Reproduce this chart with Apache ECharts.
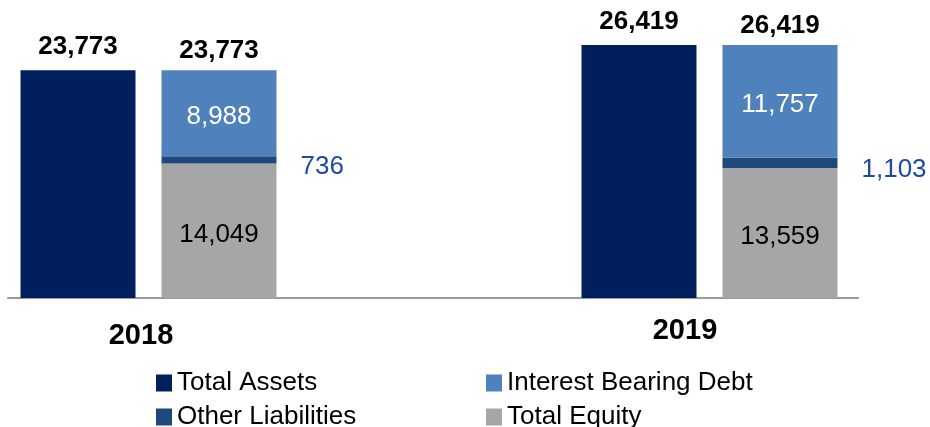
<!DOCTYPE html>
<html>
<head>
<meta charset="utf-8">
<script src="https://cdn.jsdelivr.net/npm/echarts@6/dist/echarts.min.js"></script>
<style>
  html, body { margin: 0; padding: 0; background: #fff; }
  #chart { width: 930px; height: 427px; }
</style>
</head>
<body>
<div id="chart"></div>
<script>
// data
const years = ['2018', '2019']
const totalAssets = [23773, 26419]
const totalEquity = [14049, 13559]
const otherLiabilities = [736, 1103]
const interestBearingDebt = [8988, 11757]
const stackTotals = [23773, 26419]
const stackTop = [0, 0] // zero-height cap, only carries the total label

const FONT = '"Liberation Sans", Arial, sans-serif'
const fmt = (v) => Number(v).toLocaleString('en-US')

const myChart = echarts.init(document.getElementById('chart'))

const barBase = {
  type: 'bar',
  barWidth: 115,
  barGap: '22.6%',
  clip: false,
  animation: false
}

const legendBase = {
  orient: 'vertical',
  top: 370,
  height: 80,
  padding: 0,
  itemGap: 8,
  itemWidth: 16,
  itemHeight: 17,
  icon: 'rect',
  selectedMode: false,
  textStyle: { fontSize: 26, color: '#000', fontFamily: FONT }
}

const option = {
  backgroundColor: '#fff',
  textStyle: { fontFamily: FONT },

  grid: [
    // bars grid: the two years sit on the grid edges (boundaryGap false)
    { left: 148.5, right: 220.5, top: 1, bottom: 129, containLabel: false },
    // baseline only
    { left: 8, width: 850, top: 1, bottom: 129, containLabel: false }
  ],

  xAxis: [
    {
      type: 'category',
      gridIndex: 0,
      data: years,
      boundaryGap: false,
      axisLine: { show: false },
      axisTick: { show: false },
      splitLine: { show: false },
      axisLabel: {
        margin: 18,
        formatter: (v) => (v === '2018' ? '{a|' + v + '}' : '{b|' + v + '}'),
        rich: {
          a: { fontSize: 29, fontWeight: 'bold', color: '#000', fontFamily: FONT, padding: [5, 15, 0, 0] },
          b: { fontSize: 29, fontWeight: 'bold', color: '#000', fontFamily: FONT, padding: [0, 49, 0, 0] }
        }
      }
    },
    {
      type: 'value',
      gridIndex: 1,
      position: 'bottom',
      axisLine: { show: true, onZero: false, lineStyle: { color: '#9a9a9a', width: 2 } },
      axisTick: { show: false },
      axisLabel: { show: false },
      splitLine: { show: false }
    }
  ],

  yAxis: [
    { type: 'value', gridIndex: 0, min: 0, max: 31000, show: false },
    { type: 'value', gridIndex: 1, show: false }
  ],

  legend: [
    { ...legendBase, data: ['Total Assets', 'Other Liabilities'], left: 156 },
    { ...legendBase, data: ['Interest Bearing Debt', 'Total Equity'], left: 486 }
  ],

  series: [
    {
      ...barBase,
      name: 'Total Assets',
      stack: 'assets',
      data: totalAssets,
      itemStyle: { color: '#001f5c' },
      label: {
        show: true,
        position: 'top',
        distance: 10,
        fontSize: 26,
        fontWeight: 'bold',
        color: '#000',
        fontFamily: FONT,
        formatter: (p) => fmt(p.value)
      }
    },
    {
      ...barBase,
      name: 'Total Equity',
      stack: 'liab',
      data: totalEquity,
      itemStyle: { color: '#a6a6a6' },
      label: {
        show: true,
        position: 'inside',
        offset: [0, 4],
        fontSize: 26,
        color: '#000',
        fontFamily: FONT,
        formatter: (p) => fmt(p.value)
      }
    },
    {
      ...barBase,
      name: 'Other Liabilities',
      stack: 'liab',
      data: otherLiabilities,
      itemStyle: { color: '#1f497d' },
      label: {
        show: true,
        position: 'right',
        distance: 24,
        offset: [0, 7],
        fontSize: 26,
        color: '#1f4aa0',
        fontFamily: FONT,
        formatter: (p) => fmt(p.value)
      }
    },
    {
      ...barBase,
      name: 'Interest Bearing Debt',
      stack: 'liab',
      data: interestBearingDebt,
      itemStyle: { color: '#4f81bd' },
      label: {
        show: true,
        position: 'inside',
        offset: [0, 4],
        fontSize: 26,
        color: '#fff',
        fontFamily: FONT,
        formatter: (p) => fmt(p.value)
      }
    },
    {
      ...barBase,
      name: 'Total',
      stack: 'liab',
      data: stackTop,
      itemStyle: { color: 'transparent' },
      label: {
        show: true,
        position: 'top',
        distance: 6,
        fontSize: 26,
        fontWeight: 'bold',
        color: '#000',
        fontFamily: FONT,
        formatter: (p) => fmt(stackTotals[p.dataIndex])
      }
    }
  ]
}

myChart.setOption(option)
</script>
</body>
</html>
